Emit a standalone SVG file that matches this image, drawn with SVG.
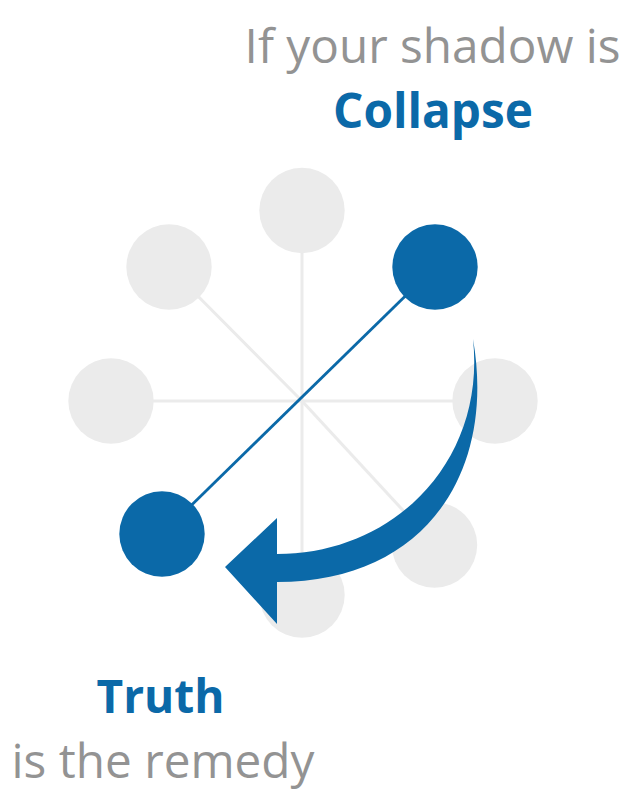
<svg xmlns="http://www.w3.org/2000/svg" width="634" height="802" viewBox="0 0 634 802">
<style>
.spoke{stroke:#ebebeb;stroke-width:3;fill:none}
.gray{fill:#ebebeb}
.blue{fill:#0b69a8}
.link{stroke:#0b69a8;stroke-width:2.8;fill:none}
.t{font-family:"Open Sans","Noto Sans","Liberation Sans",sans-serif;font-size:47.7px}
.g{fill:#939393}
.b{fill:#0b69a8;font-weight:bold}
</style>
<rect width="634" height="802" fill="#ffffff"/>
<g id="connectors">
<line class="spoke" x1="302" y1="401" x2="302" y2="210"/>
<line class="spoke" x1="302" y1="401" x2="302" y2="595"/>
<line class="spoke" x1="302" y1="401" x2="111" y2="401"/>
<line class="spoke" x1="302" y1="401" x2="495" y2="401"/>
<line class="spoke" x1="302" y1="401" x2="169" y2="267"/>
<line class="spoke" x1="302" y1="401" x2="435" y2="545"/>
</g>
<g id="node-top"><circle class="gray" cx="302" cy="210.5" r="42.7"/></g>
<g id="node-upper-left"><circle class="gray" cx="169" cy="267" r="42.7"/></g>
<g id="node-left"><circle class="gray" cx="111" cy="401" r="42.7"/></g>
<g id="node-right"><circle class="gray" cx="495" cy="401" r="42.7"/></g>
<g id="node-lower-right"><circle class="gray" cx="434.5" cy="545" r="42.7"/></g>
<g id="node-bottom"><circle class="gray" cx="302" cy="595" r="42.7"/></g>
<g id="link"><line class="link" x1="435" y1="267" x2="162" y2="534"/></g>
<g id="node-collapse"><circle class="blue" cx="435" cy="267" r="42.7"/></g>
<g id="node-truth"><circle class="blue" cx="162" cy="534" r="42.7"/></g>
<g id="arrow"><path class="blue" d="M473,339 C496,470 427,582 277,582 L277,624 L225,567 L277,518 L277,554 C395,554 486,460 473,339 Z"/></g>
<g id="label-top">
<text class="t g" x="620.5" y="62.7" text-anchor="end">If your shadow is</text>
<text class="t b" x="433" y="127.5" text-anchor="middle">Collapse</text>
</g>
<g id="label-bottom">
<text class="t b" x="160.5" y="713.3" text-anchor="middle" style="font-size:46px">Truth</text>
<text class="t g" x="163" y="778.3" text-anchor="middle">is the remedy</text>
</g>
</svg>
